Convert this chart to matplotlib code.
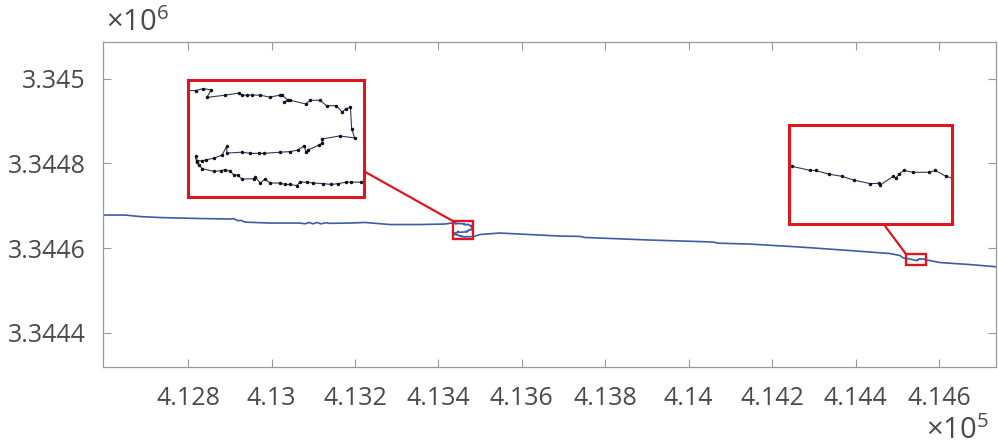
import matplotlib
matplotlib.use("Agg")
import matplotlib.pyplot as plt
from matplotlib.patches import Rectangle, ConnectionPatch

plt.rcParams["font.family"] = "Open Sans"
plt.rcParams["mathtext.fontset"] = "custom"
plt.rcParams["mathtext.rm"] = "Open Sans"

# GPS track in UTM metres (easting, northing)
east = [
    412588.3, 412648.2, 412684.2, 412732.1, 412828.1, 412900.0, 412909.6,
    412919.2, 412926.4, 412936.0, 412995.9, 413067.9, 413079.8, 413089.4,
    413099.0, 413108.6, 413118.2, 413130.2, 413139.8, 413187.8, 413223.7,
    413283.7, 413355.6, 413415.6,
    # turning loop near 413.45 km
    413434.1, 413438.0, 413440.1, 413442.2, 413441.0, 413446.0, 413449.5,
    413450.4, 413451.8, 413453.1, 413455.3, 413457.8, 413460.6, 413461.0,
    413462.6, 413461.7, 413463.3, 413467.5, 413468.6, 413471.2, 413473.0,
    413475.6, 413477.2, 413478.1, 413479.4, 413479.7, 413480.5, 413476.5,
    413471.7, 413471.9, 413471.0, 413468.1, 413467.5, 413467.0, 413465.5,
    413463.3, 413460.6, 413456.2, 413454.9, 413452.6, 413450.4, 413446.4,
    413446.3, 413445.1, 413442.9, 413440.7, 413439.8, 413438.5, 413438.0,
    413438.3, 413438.9, 413439.8, 413442.9, 413444.7, 413446.0, 413447.3,
    413448.2, 413449.3, 413450.4, 413453.5, 413454.0, 413455.3, 413456.6,
    413457.9, 413460.6, 413461.9, 413463.3, 413465.0, 413465.9, 413467.7,
    413469.5, 413472.1, 413474.3, 413476.1, 413478.3, 413479.6, 413482.3,
    413484.5,
    413500.0, 413547.5, 413595.4, 413691.3, 413740.0, 413750.0, 413787.2,
    413907.2, 414027.0, 414060.0, 414070.0, 414146.9, 414266.9, 414386.8,
    414482.7, 414506.7,
    # straight section near 414.54 km
    414515.2, 414521.0, 414526.3, 414527.8, 414531.7, 414535.6, 414539.0,
    414543.9, 414546.6, 414546.8, 414550.7, 414551.4, 414552.4, 414553.8,
    414556.5, 414561.2, 414563.1, 414566.2, 414570.4,
    414602.6, 414674.6, 414746.5,
]
north = [
    3344677.9, 3344677.9, 3344674.4, 3344672.0, 3344669.7, 3344668.5, 3344669.2,
    3344664.6, 3344665.4, 3344661.2, 3344659.0, 3344659.0, 3344657.2, 3344660.4,
    3344657.2, 3344660.4, 3344657.2, 3344659.7, 3344658.3, 3344659.0, 3344660.4,
    3344655.5, 3344655.5, 3344656.7,
    3344659.3, 3344659.3, 3344660.0, 3344659.5, 3344656.9, 3344657.7, 3344658.4,
    3344657.7, 3344657.7, 3344657.7, 3344657.7, 3344657.0, 3344657.7, 3344657.7,
    3344656.1, 3344655.2, 3344655.9, 3344654.6, 3344655.9, 3344655.9, 3344654.0,
    3344654.0, 3344651.7, 3344652.9, 3344653.4, 3344646.0, 3344642.7, 3344643.4,
    3344642.3, 3344641.0, 3344640.2, 3344638.5, 3344637.7, 3344640.0, 3344638.5,
    3344637.9, 3344637.7, 3344637.3, 3344637.3, 3344637.3, 3344637.7, 3344637.4,
    3344639.7, 3344636.7, 3344635.6, 3344635.0, 3344634.7, 3344634.7, 3344636.2,
    3344634.2, 3344633.3, 3344631.9, 3344631.0, 3344631.2, 3344631.6, 3344631.0,
    3344629.8, 3344629.6, 3344628.3, 3344628.4, 3344628.9, 3344626.9, 3344628.3,
    3344626.9, 3344626.9, 3344626.4, 3344626.4, 3344626.0, 3344627.2, 3344627.2,
    3344626.9, 3344626.7, 3344626.4, 3344626.7, 3344627.2, 3344627.2, 3344627.2,
    3344627.2,
    3344632.0, 3344635.4, 3344633.1, 3344628.3, 3344627.5, 3344625.0, 3344623.6,
    3344618.9, 3344615.3, 3344614.0, 3344611.5, 3344609.4, 3344602.4, 3344594.1,
    3344587.0, 3344582.3,
    3344576.2, 3344575.7, 3344574.6, 3344574.6, 3344573.6, 3344573.0, 3344572.0,
    3344571.0, 3344571.1, 3344570.6, 3344573.0, 3344572.5, 3344573.6, 3344574.6,
    3344574.1, 3344574.1, 3344574.6, 3344573.0, 3344571.9,
    3344565.8, 3344561.0, 3344555.1,
]

x_ticks = [412800, 413000, 413200, 413400, 413600, 413800, 414000, 414200, 414400, 414600]
x_labels = ["4.128", "4.13", "4.132", "4.134", "4.136", "4.138", "4.14", "4.142", "4.144", "4.146"]
y_ticks = [3344400, 3344600, 3344800, 3345000]
y_labels = ["3.3444", "3.3446", "3.3448", "3.345"]

# zoom windows: (x0, x1, y0, y1)
zoom_loop = (413436, 413483, 3344622, 3344663)
zoom_line = (414520, 414568, 3344560, 3344587)

red = "#e0161f"
grey = "#9a9a9a"
text_col = "#4a4a4a"

fig = plt.figure(figsize=(9.98, 4.44), dpi=100)
ax = fig.add_axes([0.1037, 0.1741, 0.894, 0.732])
ax.plot(east, north, color="#3d5ca8", lw=1.2)
ax.set_xlim(412597, 414736)
ax.set_ylim(3344320, 3345087)
ax.set_xticks(x_ticks)
ax.set_xticklabels(x_labels)
ax.set_yticks(y_ticks)
ax.set_yticklabels(y_labels)
ax.tick_params(direction="in", length=6, width=0.8, color=grey, labelsize=18,
               labelcolor=text_col, top=True, right=True)
ax.tick_params(axis="x", pad=14)
ax.tick_params(axis="y", pad=13)
for s in ax.spines.values():
    s.set_color(grey)
    s.set_linewidth(0.9)

ax.annotate(r"$\times10^{6}$", xy=(0, 1), xycoords="axes fraction",
            xytext=(2, 3), textcoords="offset points", ha="left", va="bottom",
            fontsize=21, color=text_col)
ax.annotate(r"$\times10^{5}$", xy=(1, 0), xycoords="axes fraction",
            xytext=(-5, -57), textcoords="offset points", ha="right", va="bottom",
            fontsize=21, color=text_col)


def add_zoom(bounds, pos, anchor_inset, anchor_main):
    x0, x1, y0, y1 = bounds
    ax.add_patch(Rectangle((x0, y0), x1 - x0, y1 - y0, fill=False,
                           edgecolor=red, lw=1.7, zorder=4))
    ins = fig.add_axes(pos)
    ins.plot(east, north, color="#2c3862", lw=0.8, marker=".", ms=3.0,
             mfc="#111111", mec="#111111")
    ins.set_xlim(x0, x1)
    ins.set_ylim(y0, y1)
    ins.set_xticks([])
    ins.set_yticks([])
    for s in ins.spines.values():
        s.set_color(red)
        s.set_linewidth(2.2)
    con = ConnectionPatch(xyA=anchor_inset, coordsA=ins.transAxes,
                          xyB=anchor_main, coordsB=ax.transData,
                          color=red, lw=1.6)
    fig.add_artist(con)
    return ins


add_zoom(zoom_loop, [0.1884, 0.5563, 0.1763, 0.2635], (1, 0.22),
         (zoom_loop[0], zoom_loop[3]))
add_zoom(zoom_line, [0.7906, 0.4955, 0.1633, 0.2230], (0.58, 0),
         (zoom_line[0], zoom_line[3]))

fig.savefig("out.png", dpi=100)
